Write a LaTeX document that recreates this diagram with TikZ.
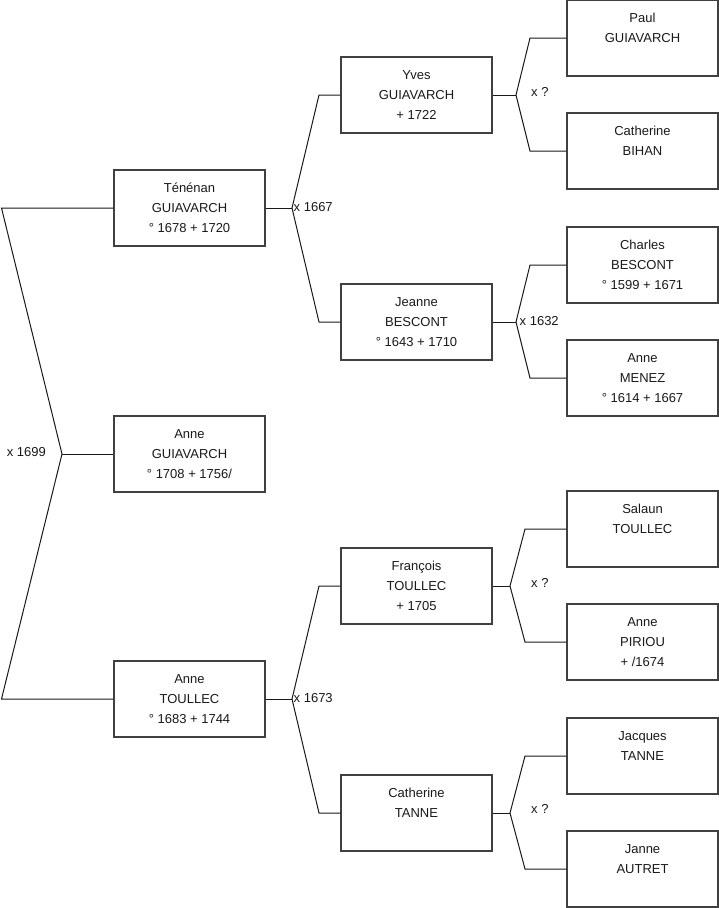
\documentclass[tikz,border=0pt]{standalone}
\usepackage{fontspec}
\setmainfont{Liberation Sans}
\begin{document}
\begin{tikzpicture}[x=1pt,y=-1pt,
  person/.style={draw=black!75,line width=1.1pt,minimum width=151pt,minimum height=76pt,
    inner sep=0pt,align=center,font=\fontsize{13}{20}\selectfont,text=black!90},
  link/.style={draw=black!90,line width=1pt},
  union/.style={font=\fontsize{13}{16}\selectfont,inner sep=0pt,text=black!90}]
\useasboundingbox (0,0) rectangle (719,908);
% column 1
\node[person] (ten)   at (189.5,208) {\strut Ténénan\\\strut GUIAVARCH\\\strut ° 1678 + 1720};
\node[person] (anneg) at (189.5,454) {\strut Anne\\\strut GUIAVARCH\\\strut ° 1708 + 1756/};
\node[person] (annet) at (189.5,699) {\strut Anne\\\strut TOULLEC\\\strut ° 1683 + 1744};
% column 2
\node[person] (yves)  at (416.5,95)  {\strut Yves\\\strut GUIAVARCH\\\strut + 1722};
\node[person] (jean)  at (416.5,322) {\strut Jeanne\\\strut BESCONT\\\strut ° 1643 + 1710};
\node[person] (fran)  at (416.5,586) {\strut François\\\strut TOULLEC\\\strut + 1705};
\node[person] (catt)  at (416.5,813) {\strut Catherine\\\strut TANNE\\\strut};
% column 3
\node[person] (paul)  at (642.5,38)  {\strut Paul\\\strut GUIAVARCH\\\strut};
\node[person] (bihan) at (642.5,151) {\strut Catherine\\\strut BIHAN\\\strut};
\node[person] (charl) at (642.5,265) {\strut Charles\\\strut BESCONT\\\strut ° 1599 + 1671};
\node[person] (menez) at (642.5,378) {\strut Anne\\\strut MENEZ\\\strut ° 1614 + 1667};
\node[person] (sal)   at (642.5,529) {\strut Salaun\\\strut TOULLEC\\\strut};
\node[person] (pir)   at (642.5,642) {\strut Anne\\\strut PIRIOU\\\strut + /1674};
\node[person] (jac)   at (642.5,756) {\strut Jacques\\\strut TANNE\\\strut};
\node[person] (jan)   at (642.5,869) {\strut Janne\\\strut AUTRET\\\strut};
% junction points
\coordinate (r)  at (62,454);
\coordinate (rt) at (1.5,208);
\coordinate (rb) at (1.5,699);
\coordinate (v1) at (292,208);
\coordinate (v2) at (292,699);
\coordinate (v3) at (516,95);
\coordinate (v4) at (516,322);
\coordinate (v5) at (510,586);
\coordinate (v6) at (510,813);
% connectors
\draw[link] (ten.west) -- (rt) -- (r) -- (rb) -- (annet.west);
\draw[link] (r) -- (anneg.west);
\draw[link] (ten.east) -- (v1);
\draw[link] (yves.west) -- (319,95) -- (v1) -- (319,322) -- (jean.west);
\draw[link] (annet.east) -- (v2);
\draw[link] (fran.west) -- (319,586) -- (v2) -- (319,813) -- (catt.west);
\draw[link] (yves.east) -- (v3);
\draw[link] (paul.west) -- (530,38) -- (v3) -- (530,151) -- (bihan.west);
\draw[link] (jean.east) -- (v4);
\draw[link] (charl.west) -- (530,265) -- (v4) -- (530,378) -- (menez.west);
\draw[link] (fran.east) -- (v5);
\draw[link] (sal.west) -- (525,529) -- (v5) -- (525,642) -- (pir.west);
\draw[link] (catt.east) -- (v6);
\draw[link] (jac.west) -- (525,756) -- (v6) -- (525,869) -- (jan.west);
% union labels
\node[union,anchor=east] (u0) at (46,452) {x 1699};
\node[union,anchor=west] (u1) at (293.5,207) {x 1667};
\node[union,anchor=west] (u2) at (293.5,698) {x 1673};
\node[union,anchor=west] (u3) at (531,92) {x ?};
\node[union,anchor=west] (u4) at (519.5,321) {x 1632};
\node[union,anchor=west] (u5) at (531,583) {x ?};
\node[union,anchor=west] (u6) at (531,809) {x ?};
\end{tikzpicture}
\end{document}
